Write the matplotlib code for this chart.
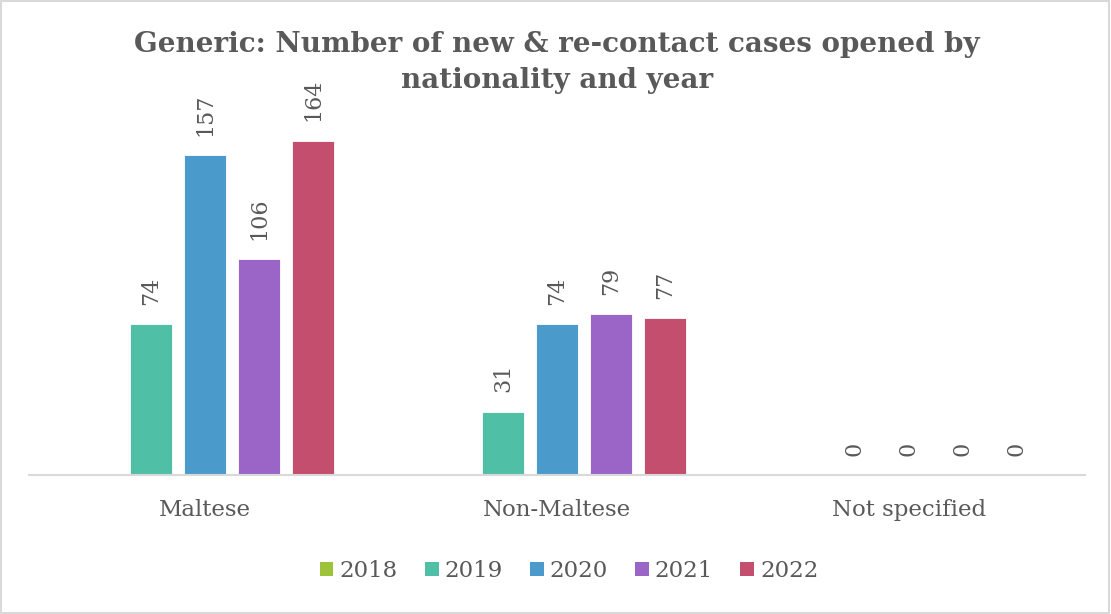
import matplotlib
matplotlib.use("Agg")
import matplotlib.pyplot as plt
import numpy as np
from matplotlib.patches import Rectangle

categories = ["Maltese", "Non-Maltese", "Not specified"]
years = ["2018", "2019", "2020", "2021", "2022"]
values = {
    "2018": [None, None, None],
    "2019": [74, 31, 0],
    "2020": [157, 74, 0],
    "2021": [106, 79, 0],
    "2022": [164, 77, 0],
}
colors = ["#9DC33B", "#4FBFA5", "#4A9BCC", "#9B65C8", "#C44E6E"]
title_lines = ["Generic: Number of new & re-contact cases opened by", "nationality and year"]

SERIF = ["DejaVu Serif"]
TXT = "#595959"

fig = plt.figure(figsize=(11.11, 6.14), dpi=100)
ax = fig.add_axes([29 / 1111, 1 - 475 / 614, 1056 / 1111, 375 / 614])

x = np.arange(len(categories))
slot = 54 / 352
width = 42 / 352
for k, (yr, col) in enumerate(zip(years, colors)):
    off = (k - 2) * slot
    vals = values[yr]
    for i, v in enumerate(vals):
        if v is None:
            continue
        ax.bar(x[i] + off, v, width, color=col, edgecolor="white", linewidth=0.6)
        ax.annotate(str(v), (x[i] + off, v), xytext=(0, 14), textcoords="offset points",
                    rotation=90, ha="center", va="bottom", fontsize=16,
                    family=SERIF, color=TXT)
    ax.bar(0, 0, 0, color=col, label=yr)

ax.set_xlim(-0.5, 2.5)
ax.set_ylim(0, 184)
ax.set_yticks([])
ax.set_xticks(x)
ax.set_xticklabels(categories, fontsize=16.5, family=SERIF, color=TXT)
ax.tick_params(axis="x", length=0, pad=17)
for s in ["top", "right", "left"]:
    ax.spines[s].set_visible(False)
ax.spines["bottom"].set_color("#D9D9D9")
ax.spines["bottom"].set_linewidth(1.5)

for line, ypx in zip(title_lines, [45, 80]):
    fig.text(557 / 1111, 1 - ypx / 614, line, ha="center", va="center", fontsize=20,
             fontweight="bold", family=SERIF, color=TXT)

leg = fig.legend(loc="center", bbox_to_anchor=(569 / 1111, 1 - 571 / 614), ncol=5,
                 frameon=False, handlelength=0.6, handleheight=0.6, handletextpad=0.25,
                 columnspacing=1.2, prop={"family": SERIF, "size": 16.5})
for t in leg.get_texts():
    t.set_color(TXT)

fig.patches.append(Rectangle((0.001, 0.002), 0.997, 0.996, transform=fig.transFigure,
                             fill=False, edgecolor="#D9D9D9", linewidth=1.5))

fig.savefig("out.png", dpi=100)
